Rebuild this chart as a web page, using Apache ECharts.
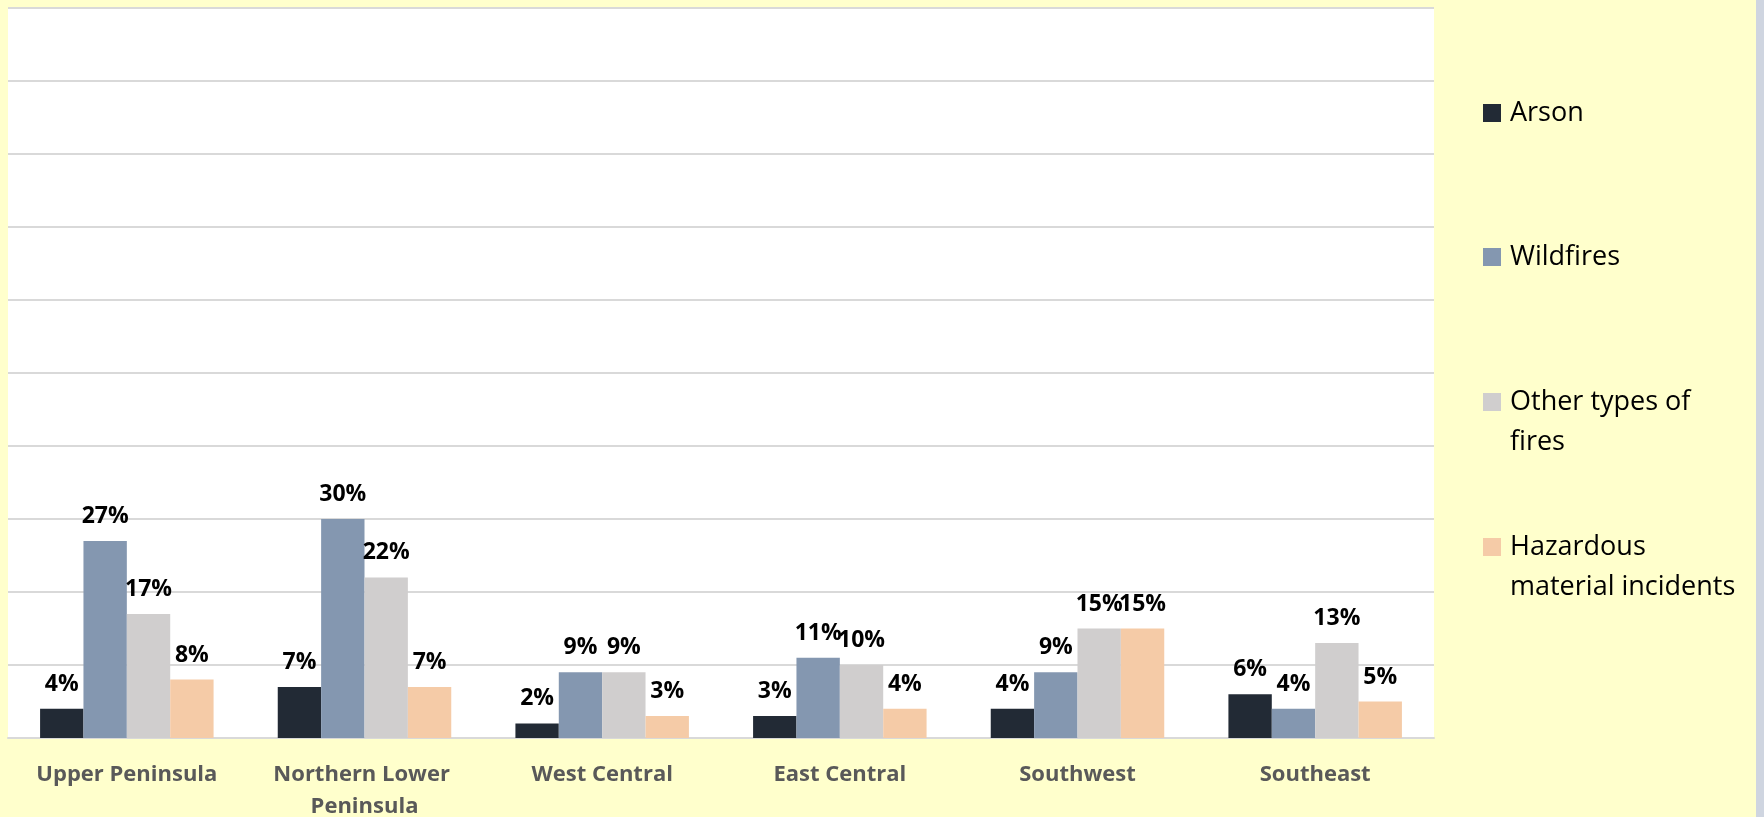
<!DOCTYPE html>
<html>
<head>
<meta charset="utf-8">
<script src="https://cdn.jsdelivr.net/npm/echarts@6/dist/echarts.min.js"></script>
<style>
  html, body { margin: 0; padding: 0; background: #ffffcc; }
  #chart { width: 1764px; height: 817px; }
</style>
</head>
<body>
<div id="chart"></div>
<script>
// регионы и доли (%) по типам вызовов
const regions = ['Upper Peninsula', 'Northern Lower Peninsula', 'West Central', 'East Central', 'Southwest', 'Southeast'];
const arson = [4, 7, 2, 3, 4, 6];
const wildfires = [27, 30, 9, 11, 9, 4];
const otherFires = [17, 22, 9, 10, 15, 13];
const hazmat = [8, 7, 3, 4, 15, 5];

const seriesNames = ['Arson', 'Wildfires', 'Other types of fires', 'Hazardous material incidents'];
// пустая первая строка — чтобы первая строка текста стояла вровень с квадратиком
const legendText = {
    'Arson': 'Arson',
    'Wildfires': 'Wildfires',
    'Other types of fires': '\nOther types of\nfires',
    'Hazardous material incidents': '\nHazardous\nmaterial incidents'
};
const colors = ['#222a35', '#8497b0', '#d0cece', '#f5cba7'];

document.addEventListener('DOMContentLoaded', () => {
    const chart = echarts.init(document.getElementById('chart'));

    const values = [arson, wildfires, otherFires, hazmat];

    const series = seriesNames.map((name, i) => ({
        name: name,
        type: 'bar',
        data: values[i],
        barGap: '0%',
        barCategoryGap: '27%',
        itemStyle: { color: colors[i] },
        label: {
            show: true,
            position: 'top',
            distance: 13,
            formatter: '{c}%',
            color: '#000',
            fontFamily: 'Open Sans',
            fontWeight: 'bold',
            fontSize: 23
        }
    }));

    // отдельная легенда на каждый пункт — так проще выставить позиции
    const legendTops = [94, 238, 342, 487];
    const legends = seriesNames.map((name, i) => {
        const twoLines = legendText[name].indexOf('\n') >= 0;
        return {
            data: [name],
            orient: 'vertical',
            left: 1483,
            top: legendTops[i],
            padding: 0,
            itemWidth: 18,
            itemHeight: 18,
            icon: 'rect',
            formatter: n => legendText[n],
            textStyle: {
                fontFamily: 'Open Sans',
                fontSize: 27,
                lineHeight: twoLines ? 40 : 38,
                color: '#000',
                padding: [0, 0, 0, 4]
            }
        };
    });

    const option = {
        backgroundColor: '#ffffcc',
        animation: false,
        grid: {
            left: 8,
            right: 330,
            top: 8,
            bottom: 79,
            outerBoundsMode: 'none',
            show: true,
            backgroundColor: '#ffffff',
            borderWidth: 0
        },
        legend: legends,
        xAxis: {
            type: 'category',
            data: regions,
            axisTick: { show: false },
            axisLine: { lineStyle: { color: '#d9d9d9', width: 2 } },
            axisLabel: {
                interval: 0,
                margin: 21,
                color: '#595959',
                fontFamily: 'Open Sans',
                fontWeight: 'bold',
                fontSize: 22,
                lineHeight: 32,
                width: 220,
                overflow: 'break'
            }
        },
        yAxis: {
            type: 'value',
            min: 0,
            max: 100,
            interval: 10,
            axisLabel: { show: false },
            axisLine: { show: false },
            axisTick: { show: false },
            splitLine: { lineStyle: { color: '#d9d9d9', width: 2 } }
        },
        graphic: [{
            type: 'rect',
            shape: { x: 1756, y: 0, width: 8, height: 817 },
            style: { fill: '#cfd5e0' }
        }],
        series: series
    };

    chart.setOption(option);
});
</script>
</body>
</html>
